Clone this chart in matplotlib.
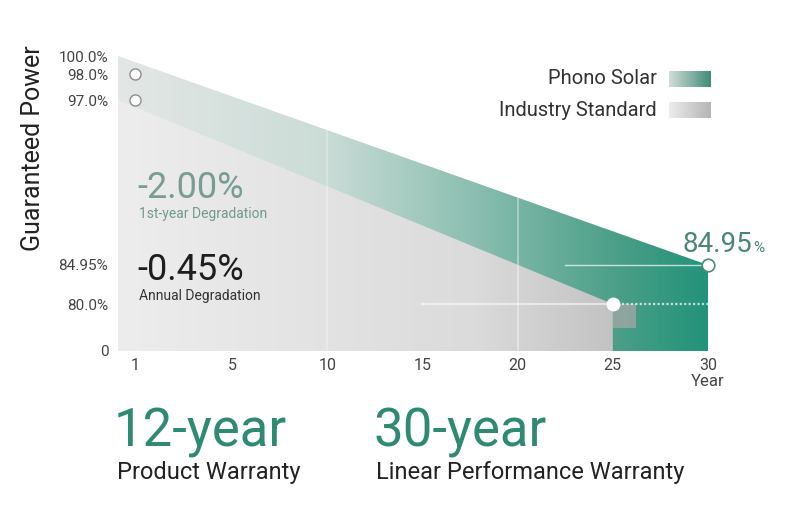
import numpy as np
import matplotlib

matplotlib.use("Agg")
import matplotlib.pyplot as plt
from matplotlib.colors import LinearSegmentedColormap
from matplotlib.patches import Polygon

plt.rcParams["font.family"] = ["Roboto", "DejaVu Sans"]

# ── data ──
YEAR_TICKS = [1, 5, 10, 15, 20, 25, 30]
POWER_TICKS = [0, 80, 84.95, 97, 98, 100]
POWER_LABELS = ["0", "80.0%", "84.95%", "97.0%", "98.0%", "100.0%"]

PHONO_YEARS = [1, 30]
PHONO_POWER = [98.0, 84.95]
INDUSTRY_YEARS = [1, 25]
INDUSTRY_POWER = [97.0, 80.0]

# outline of the shaded area (starts at the origin column with 100%)
ENVELOPE_YEARS = [0, 30]
ENVELOPE_POWER = [100.0, 84.95]
INDUSTRY_AREA_YEARS = [0, 25]
INDUSTRY_AREA_POWER = [97.0, 80.0]

# the infographic's axes are not linear: knots -> relative screen position
X_KNOTS, X_POS = [0, 1, 5, 30], [0, 17, 114, 590]
Y_KNOTS, Y_POS = [0, 80, 84.95, 97, 98, 100], [0, 47, 86, 251, 277, 295]

W, H = 785, 508
TEAL = "#2f8a74"


def piecewise(src, dst):
    src = np.asarray(src, float)
    dst = np.asarray(dst, float)

    def f(v):
        v = np.asarray(v, float)
        out = np.interp(v, src, dst)
        lo = dst[0] + (v - src[0]) * (dst[1] - dst[0]) / (src[1] - src[0])
        hi = dst[-1] + (v - src[-1]) * (dst[-1] - dst[-2]) / (src[-1] - src[-2])
        out = np.where(v < src[0], lo, out)
        return np.where(v > src[-1], hi, out)
    return f


def fx(x):
    return x / W


def fy(y):
    return 1 - y / H


def gradient_fill(ax, clip, colors, zorder):
    cmap = LinearSegmentedColormap.from_list("g", colors)
    grad = np.tile(np.linspace(0, 1, 256), (2, 1))
    im = ax.imshow(grad, extent=(0, 1, 0, 1), transform=ax.transAxes,
                   aspect="auto", cmap=cmap, interpolation="bilinear", zorder=zorder)
    im.set_clip_path(clip)


fig = plt.figure(figsize=(W / 100, H / 100), dpi=100)
fig.patch.set_facecolor("white")
ax = fig.add_axes([fx(118), fy(351), 590 / W, 295 / H])
ax.set_xscale("function", functions=(piecewise(X_KNOTS, X_POS), piecewise(X_POS, X_KNOTS)))
ax.set_yscale("function", functions=(piecewise(Y_KNOTS, Y_POS), piecewise(Y_POS, Y_KNOTS)))

env = Polygon([(ENVELOPE_YEARS[0], 0), (ENVELOPE_YEARS[0], ENVELOPE_POWER[0]),
               (ENVELOPE_YEARS[1], ENVELOPE_POWER[1]), (ENVELOPE_YEARS[1], 0)],
              closed=True, facecolor="none", edgecolor="none", transform=ax.transData)
ax.add_patch(env)
ind = Polygon([(INDUSTRY_AREA_YEARS[0], 0), (INDUSTRY_AREA_YEARS[0], INDUSTRY_AREA_POWER[0]),
               (INDUSTRY_AREA_YEARS[1], INDUSTRY_AREA_POWER[1]), (INDUSTRY_AREA_YEARS[1], 0)],
              closed=True, facecolor="none", edgecolor="none", transform=ax.transData)
ax.add_patch(ind)

gradient_fill(ax, env, [(0.0, "#e3e7e6"), (0.35, "#cbdcd7"), (0.6, "#8cbfb1"),
                        (0.85, "#4a9e87"), (1.0, "#23937a")], zorder=1)
gradient_fill(ax, ind, [(0.0, "#eeedee"), (0.6, "#dcdbdc"), (0.84, "#c3c3c4"),
                        (1.0, "#bdbdbd")], zorder=2)

# small grey block next to the 25-year marker
ax.fill([25, 26.2, 26.2, 25], [39, 39, 80, 80], color="#a7a7a7", alpha=0.75, lw=0, zorder=3)

# faint white guide lines
for yr, a in ((10, 0.3), (20, 0.45)):
    ln = ax.axvline(yr, color="white", lw=1.2, alpha=a, zorder=3)
    ln.set_clip_path(env)
ax.plot([22.5, 30], [84.95, 84.95], color="white", lw=1, alpha=0.7, zorder=3)
ax.plot([15, 25], [80, 80], color="white", lw=1.6, alpha=0.55, zorder=3)
ax.plot([25, 30], [80, 80], color="white", lw=1.6, ls=(0, (1, 1)), alpha=0.7, zorder=3)

ax.plot([PHONO_YEARS[0], INDUSTRY_YEARS[0]], [PHONO_POWER[0], INDUSTRY_POWER[0]], "o",
        mfc="white", mec="#8d8d8d", ms=8, mew=1, zorder=5, clip_on=False)
ax.plot(INDUSTRY_YEARS[1], INDUSTRY_POWER[1], "o", mfc="white", mec="white",
        ms=9, zorder=5, clip_on=False)
ax.plot(PHONO_YEARS[1], PHONO_POWER[1], "o", mfc="white", mec="#4b8a7a",
        ms=9, mew=1.2, zorder=5, clip_on=False)

ax.set_xlim(0, 30)
ax.set_ylim(0, 100)
ax.set_xticks(YEAR_TICKS)
ax.set_xticklabels([str(t) for t in YEAR_TICKS])
ax.set_yticks(POWER_TICKS)
ax.set_yticklabels(POWER_LABELS)
ax.minorticks_off()
ax.tick_params(axis="x", length=0, pad=5, labelsize=11.5, labelcolor="#444444")
ax.tick_params(axis="y", length=0, pad=7, labelsize=11, labelcolor="#444444")
for s in ax.spines.values():
    s.set_visible(False)
ax.set_facecolor("none")

ax.annotate("Year", xy=(30, 0), xytext=(0, -22), textcoords="offset points",
            ha="center", va="center", fontsize=12, color="#444444", annotation_clip=False)
fig.text(fx(33), fy(148), "Guaranteed Power", rotation=90, ha="center", va="center",
         fontsize=18, color="#222222")

# degradation notes
fig.text(fx(137), fy(198), "-2.00%", fontsize=26, color="#7a9c93", va="baseline")
fig.text(fx(139), fy(218), "1st-year Degradation", fontsize=10, color="#6f9a8e", va="baseline")
fig.text(fx(137), fy(280), "-0.45%", fontsize=26, color="#1e1e1e", va="baseline")
fig.text(fx(139), fy(300), "Annual Degradation", fontsize=10, color="#333333", va="baseline")

# end value
fig.text(fx(752), fy(252), "84.95", fontsize=20, color="#4b8479", ha="right", va="baseline")
fig.text(fx(753), fy(252), "%", fontsize=11, color="#4b8479", ha="left", va="baseline")

# legend
legend = [("Phono Solar", 79, ["#d2dcd9", "#3f8c76"]),
          ("Industry Standard", 110, ["#ececec", "#b5b5b5"])]
for label, yc, cols in legend:
    fig.text(fx(657), fy(yc), label, fontsize=14.5, color="#333333", ha="right", va="center")
    lax = fig.add_axes([fx(669), fy(yc + 8), 42 / W, 16 / H])
    lax.imshow(np.tile(np.linspace(0, 1, 64), (2, 1)), aspect="auto",
               cmap=LinearSegmentedColormap.from_list("l", cols), interpolation="bilinear")
    lax.axis("off")

# warranty captions
fig.text(fx(114), fy(447), "12-year", fontsize=38, color=TEAL, va="baseline")
fig.text(fx(117), fy(479), "Product Warranty", fontsize=17, color="#222222", va="baseline")
fig.text(fx(373), fy(447), "30-year", fontsize=38, color=TEAL, va="baseline")
fig.text(fx(376), fy(479), "Linear Performance Warranty", fontsize=17, color="#222222",
         va="baseline")

fig.savefig("out.png", dpi=100)
